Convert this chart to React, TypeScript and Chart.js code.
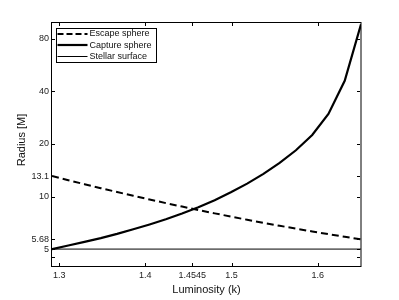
import React, { useEffect, useRef } from "react";
import { Chart, registerables } from "chart.js";

Chart.register(...registerables);

const luminosity = [1.2917, 1.3106, 1.3294, 1.3483, 1.3672, 1.386, 1.4049, 1.4238, 1.4426, 1.4615, 1.4804, 1.4992, 1.5181, 1.537, 1.5558, 1.5747, 1.5936, 1.6124, 1.6313, 1.6502];
const escapeSphere = [13.1, 12.41, 11.77, 11.17, 10.61, 10.1, 9.62, 9.17, 8.76, 8.37, 8.01, 7.68, 7.36, 7.07, 6.8, 6.55, 6.31, 6.09, 5.88, 5.68];
const captureSphere = [5.0, 5.24, 5.5, 5.78, 6.11, 6.49, 6.92, 7.41, 8.0, 8.69, 9.53, 10.57, 11.86, 13.49, 15.6, 18.41, 22.54, 29.72, 46.03, 97];
const stellarSurface = 5;

const xTicks = [1.3, 1.4, 1.4545, 1.5, 1.6];
const xTickLabels = ["1.3", "1.4", "1.4545", "1.5", "1.6"];
const yTicks = [4.5, 5, 5.68, 10, 13.1, 20, 40, 80];
const yTickLabels = ["", "5", "5.68", "10", "13.1", "20", "40", "80"];

const seriesNames = ["Escape sphere", "Capture sphere", "Stellar surface"];
const xTitle = "Luminosity (k)";
const yTitle = "Radius [M]";

const FONT = '"Liberation Sans", Arial, Helvetica, sans-serif';

const framePlugin = {
  id: "frame",
  afterDatasetsDraw(chart: any) {
    const { ctx, chartArea, scales } = chart;
    const { left, right, top, bottom } = chartArea;
    const x = scales.x;
    const y = scales.y;
    ctx.save();
    ctx.strokeStyle = "#000";
    ctx.lineWidth = 1;
    ctx.setLineDash([]);
    // box
    ctx.beginPath();
    ctx.moveTo(left - 0.5, top + 0.5);
    ctx.lineTo(right, top + 0.5);
    ctx.moveTo(right, top);
    ctx.lineTo(right, bottom + 1);
    ctx.moveTo(left - 0.5, top);
    ctx.lineTo(left - 0.5, bottom + 1);
    ctx.moveTo(left - 1, bottom + 0.5);
    ctx.lineTo(right, bottom + 0.5);
    ctx.stroke();
    // ticks inward
    const tl = 3;
    ctx.beginPath();
    xTicks.forEach((v) => {
      const px = Math.round(x.getPixelForValue(v)) + 0.5;
      ctx.moveTo(px, bottom);
      ctx.lineTo(px, bottom - tl);
      ctx.moveTo(px, top + 1);
      ctx.lineTo(px, top + 1 + tl);
    });
    yTicks.forEach((v) => {
      const py = Math.round(y.getPixelForValue(v)) + 0.5;
      ctx.moveTo(left, py);
      ctx.lineTo(left + tl, py);
      ctx.moveTo(right - 1, py);
      ctx.lineTo(right - 1 - tl, py);
    });
    ctx.stroke();

    // axis titles
    ctx.fillStyle = "#111";
    ctx.font = `11px ${FONT}`;
    ctx.textAlign = "center";
    ctx.textBaseline = "middle";
    ctx.fillText(xTitle, (left + right) / 2, 290);
    ctx.save();
    ctx.translate(22, 140);
    ctx.rotate(-Math.PI / 2);
    ctx.fillText(yTitle, 0, 0);
    ctx.restore();

    // legend
    const bx = left + 4.5;
    const by = top + 6.5;
    const bw = 100;
    const bh = 34;
    ctx.fillStyle = "#fff";
    ctx.fillRect(bx, by, bw, bh);
    ctx.strokeStyle = "#000";
    ctx.lineWidth = 1;
    ctx.strokeRect(bx, by, bw, bh);
    const rows = [by + 5, by + 16.2, by + 27.4];
    const styles = [
      { w: 2, dash: [6, 3] },
      { w: 2.2, dash: [] as number[] },
      { w: 1, dash: [] as number[] },
    ];
    rows.forEach((ry, i) => {
      ctx.beginPath();
      ctx.lineWidth = styles[i].w;
      ctx.setLineDash(styles[i].dash);
      const yy = Math.round(ry) + (styles[i].w === 1 ? 0.5 : 0);
      ctx.moveTo(bx + 1, yy);
      ctx.lineTo(bx + 31, yy);
      ctx.stroke();
      ctx.setLineDash([]);
      ctx.fillStyle = "#111";
      ctx.font = `9px ${FONT}`;
      ctx.textAlign = "left";
      ctx.textBaseline = "middle";
      ctx.fillText(seriesNames[i], bx + 33, ry + 0.5);
    });
    ctx.restore();
  },
};

export default function App() {
  const ref = useRef<HTMLCanvasElement | null>(null);
  useEffect(() => {
    if (!ref.current) return;
    const chart = new Chart(ref.current, {
      type: "line",
      data: {
        datasets: [
          {
            label: seriesNames[0],
            data: luminosity.map((l, i) => ({ x: l, y: escapeSphere[i] })),
            borderColor: "#000",
            borderWidth: 2,
            borderDash: [7, 4],
            pointRadius: 0,
            tension: 0,
            fill: false,
          },
          {
            label: seriesNames[1],
            data: luminosity.map((l, i) => ({ x: l, y: captureSphere[i] })),
            borderColor: "#000",
            borderWidth: 2.2,
            pointRadius: 0,
            tension: 0,
            fill: false,
          },
          {
            label: seriesNames[2],
            data: [
              { x: luminosity[0], y: stellarSurface },
              { x: luminosity[luminosity.length - 1], y: stellarSurface },
            ],
            borderColor: "#000",
            borderWidth: 1,
            pointRadius: 0,
            tension: 0,
            fill: false,
          },
        ],
      },
      options: {
        responsive: false,
        animation: false,
        devicePixelRatio: 1,
        layout: { padding: { left: 0, right: 38, top: 22, bottom: 0 } },
        plugins: { legend: { display: false }, tooltip: { enabled: false } },
        scales: {
          x: {
            type: "linear",
            min: luminosity[0],
            max: luminosity[luminosity.length - 1],
            grid: { display: false, drawTicks: false },
            border: { display: false },
            afterBuildTicks: (scale: any) => {
              scale.ticks = xTicks.map((v) => ({ value: v }));
            },
            afterFit: (scale: any) => {
              scale.height = 34;
            },
            ticks: {
              autoSkip: false,
              maxRotation: 0,
              padding: 4,
              color: "#222",
              font: { family: FONT, size: 9 },
              callback: (value: any) => xTickLabels[xTicks.indexOf(Number(value))] ?? "",
            },
          },
          y: {
            type: "logarithmic",
            min: 4,
            max: 100,
            grid: { display: false, drawTicks: false },
            border: { display: false },
            afterBuildTicks: (scale: any) => {
              scale.ticks = yTicks.map((v) => ({ value: v }));
            },
            afterFit: (scale: any) => {
              scale.width = 52;
            },
            ticks: {
              autoSkip: false,
              padding: 3,
              color: "#222",
              font: { family: FONT, size: 9 },
              callback: (value: any) => yTickLabels[yTicks.indexOf(Number(value))] ?? "",
            },
          },
        },
      },
      plugins: [framePlugin],
    });
    return () => chart.destroy();
  }, []);
  return (
    <div style={{ position: "absolute", left: 0, top: 0, width: 399, height: 300, background: "#fff" }}>
      <canvas ref={ref} width={399} height={300} style={{ display: "block" }} />
    </div>
  );
}
